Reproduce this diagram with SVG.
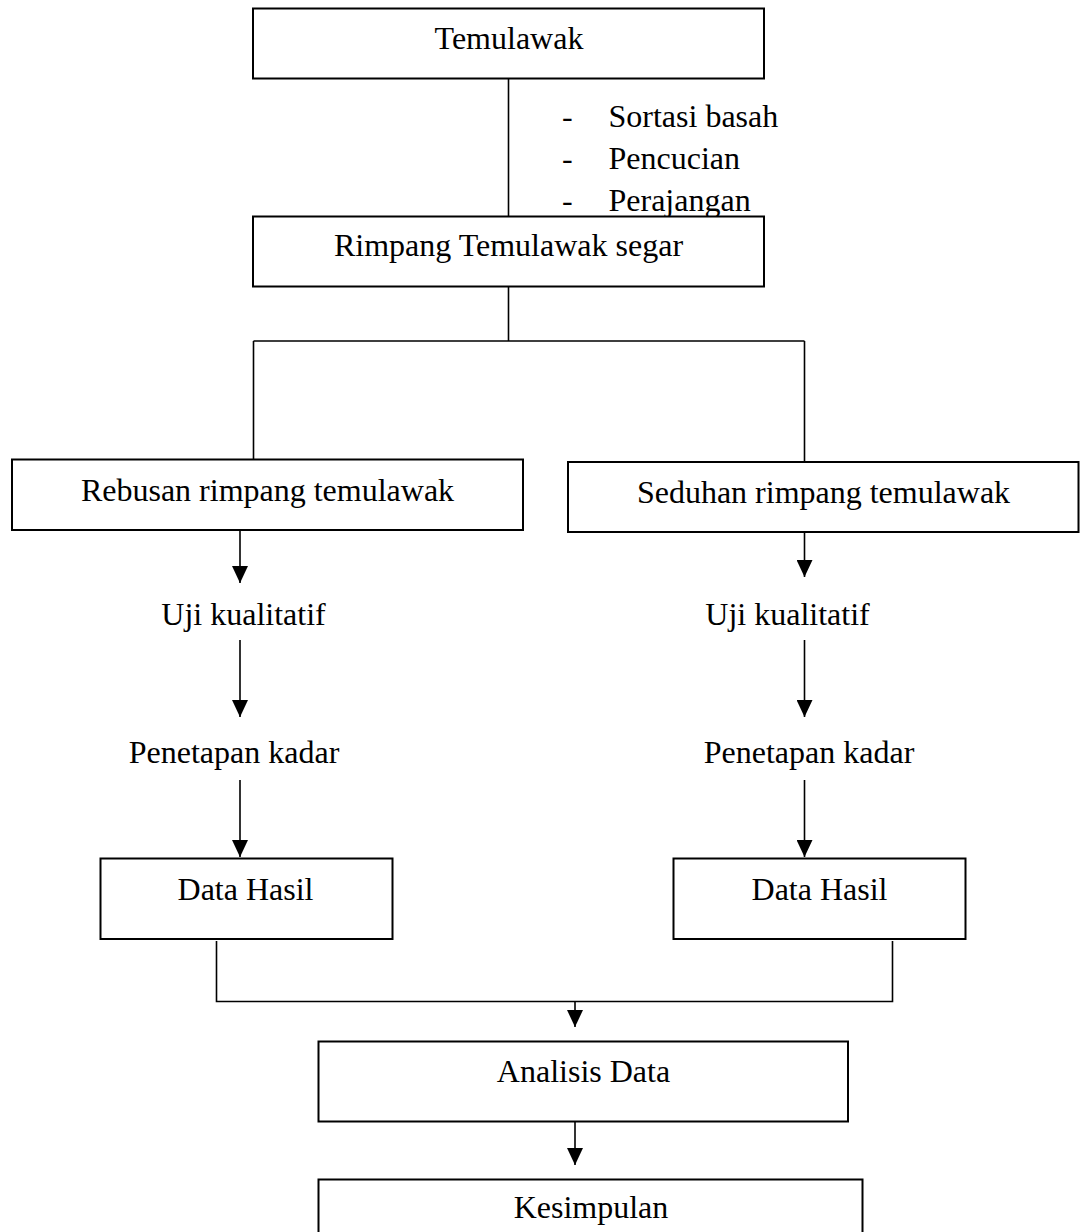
<svg xmlns="http://www.w3.org/2000/svg" width="1080" height="1232" viewBox="0 0 1080 1232">
<style>
.box{fill:#fff;stroke:#000;stroke-width:2}
.ln{fill:none;stroke:#000;stroke-width:1.6}
.t{font-family:"Liberation Serif","Times New Roman",serif;font-size:32px;fill:#000}
.c{text-anchor:middle}
</style>
<defs>
<marker id="ad" markerUnits="userSpaceOnUse" markerWidth="18" markerHeight="16" refX="17" refY="8" orient="auto" viewBox="0 0 18 16">
<path d="M0,0 L17,8 L0,16 Z" fill="#000"/>
</marker>
</defs>
<rect width="1080" height="1232" fill="#fff"/>
<g id="connectors">
<line class="ln" x1="508.5" y1="78" x2="508.5" y2="216"/>
<path class="ln" d="M508.5,287 V341 M253.5,341 H804.5 M253.5,341 V459 M804.5,341 V462"/>
<line class="ln" x1="240" y1="529" x2="240" y2="583" marker-end="url(#ad)"/>
<line class="ln" x1="804.5" y1="529" x2="804.5" y2="577" marker-end="url(#ad)"/>
<line class="ln" x1="240" y1="640" x2="240" y2="717" marker-end="url(#ad)"/>
<line class="ln" x1="804.5" y1="640" x2="804.5" y2="717" marker-end="url(#ad)"/>
<line class="ln" x1="240" y1="780" x2="240" y2="857" marker-end="url(#ad)"/>
<line class="ln" x1="804.5" y1="780" x2="804.5" y2="857" marker-end="url(#ad)"/>
<path class="ln" d="M216.5,941 V1001.5 H892.5 V941"/>
<line class="ln" x1="575" y1="1001.5" x2="575" y2="1027" marker-end="url(#ad)"/>
<line class="ln" x1="575" y1="1122" x2="575" y2="1165" marker-end="url(#ad)"/>
</g>
<g id="node-temulawak">
<rect class="box" x="253" y="8.5" width="511" height="70"/>
<text class="t c" x="509" y="49">Temulawak</text>
</g>
<g id="label-steps">
<text class="t" x="562" y="126.5">-</text>
<text class="t" x="608.5" y="126.5">Sortasi basah</text>
<text class="t" x="562" y="169">-</text>
<text class="t" x="608.5" y="169">Pencucian</text>
<text class="t" x="562" y="210.5">-</text>
<text class="t" x="608.5" y="210.5">Perajangan</text>
</g>
<g id="node-rimpang">
<rect class="box" x="253" y="216.5" width="511" height="70"/>
<text class="t c" x="508.5" y="256">Rimpang Temulawak segar</text>
</g>
<g id="node-rebusan">
<rect class="box" x="12" y="459.5" width="511" height="70.5"/>
<text class="t c" x="267.5" y="501">Rebusan rimpang temulawak</text>
</g>
<g id="node-seduhan">
<rect class="box" x="568" y="462" width="510.5" height="70"/>
<text class="t c" x="823.5" y="502.5">Seduhan rimpang temulawak</text>
</g>
<g id="node-uji-left">
<text class="t c" x="243.5" y="625">Uji kualitatif</text>
</g>
<g id="node-uji-right">
<text class="t c" x="787.5" y="625">Uji kualitatif</text>
</g>
<g id="node-penetapan-left">
<text class="t c" x="234" y="762.5">Penetapan kadar</text>
</g>
<g id="node-penetapan-right">
<text class="t c" x="809" y="762.5">Penetapan kadar</text>
</g>
<g id="node-data-left">
<rect class="box" x="100.5" y="858.5" width="292" height="80.5"/>
<text class="t c" x="245.5" y="899.5">Data Hasil</text>
</g>
<g id="node-data-right">
<rect class="box" x="673.5" y="858.5" width="292" height="80.5"/>
<text class="t c" x="819.5" y="899.5">Data Hasil</text>
</g>
<g id="node-analisis">
<rect class="box" x="318.5" y="1041.5" width="529.5" height="80"/>
<text class="t c" x="583.5" y="1081.5">Analisis Data</text>
</g>
<g id="node-kesimpulan">
<rect class="box" x="318.5" y="1179.5" width="544" height="80"/>
<text class="t c" x="591" y="1218">Kesimpulan</text>
</g>
</svg>
